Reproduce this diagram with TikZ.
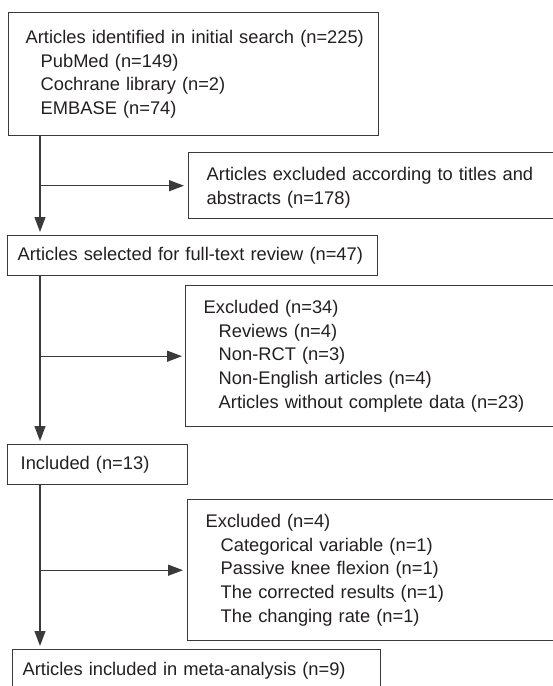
\documentclass[tikz,border=0pt]{standalone}
\usepackage{fontspec}
\setmainfont{Liberation Sans}
\usetikzlibrary{arrows.meta}

\definecolor{ink}{HTML}{231F20}
\definecolor{rule}{HTML}{3A3A3A}

\newcommand{\initem}{\hspace*{15pt}}

\tikzset{
  box/.style = {draw=rule, line width=1.4pt, anchor=north west, align=left,
    inner ysep=0pt, text=ink, font=\fontsize{18.3}{23.8}\selectfont},
  flow/.style = {draw=rule, line width=1.3pt, -{Triangle[length=15pt,width=11pt]}}
}

\begin{document}
\begin{tikzpicture}[x=1pt, y=-1pt]
\useasboundingbox (0,0) rectangle (553,686);

% boxes on the main path
\node [box, minimum width=370pt, minimum height=123pt, inner xsep=17pt, text width=336pt]
  (search) at (8,12) {\mbox{Articles identified in initial search (n=225)}\\
  \initem PubMed (n=149)\\
  \initem Cochrane library (n=2)\\
  \initem EMBASE (n=74)};
\node [box, minimum width=370pt, minimum height=40pt, inner xsep=10pt, text width=350pt]
  (fulltext) at (7,235) {\mbox{Articles selected for full-text review (n=47)}};
\node [box, minimum width=180pt, minimum height=40pt, inner xsep=13pt, text width=154pt]
  (included) at (7,444) {Included (n=13)};
\node [box, minimum width=368pt, minimum height=42pt, inner xsep=10pt, text width=348pt]
  (meta) at (12,649) {Articles included in meta-analysis (n=9)};

% boxes on the right
\node [box, minimum width=380pt, minimum height=66pt, inner xsep=18pt, text width=344pt]
  (titles) at (188,152) {\rule{0pt}{18pt}Articles excluded according to titles and\\
  abstracts (n=178)};
\node [box, minimum width=380pt, minimum height=141pt, inner xsep=18pt, text width=344pt]
  (excl34) at (185,285) {Excluded (n=34)\\
  \initem Reviews (n=4)\\
  \initem Non-RCT (n=3)\\
  \initem Non-English articles (n=4)\\
  \initem Articles without complete data (n=23)};
\node [box, minimum width=380pt, minimum height=141pt, inner xsep=18pt, text width=344pt]
  (excl4) at (187,499) {Excluded (n=4)\\
  \initem Categorical variable (n=1)\\
  \initem Passive knee flexion (n=1)\\
  \initem The corrected results (n=1)\\
  \initem The changing rate (n=1)};

% trunk
\coordinate (s1) at (search.south west -| 40,0);
\coordinate (s2) at (fulltext.south west -| 40,0);
\coordinate (s3) at (included.south west -| 40,0);
\draw [flow, shorten >=3pt] (s1) -- (s1 |- fulltext.north);
\draw [flow, shorten >=3pt] (s2) -- (s2 |- included.north);
\draw [flow, shorten >=3pt] (s3) -- (s3 |- meta.north);

% side arrows
\draw [flow, shorten >=4pt] (s1 |- titles.west) -- (titles.west);
\draw [flow, shorten >=3pt] (s2 |- excl34.west) -- (excl34.west);
\draw [flow, shorten >=4pt] (s3 |- excl4.west) -- (excl4.west);
\end{tikzpicture}
\end{document}
